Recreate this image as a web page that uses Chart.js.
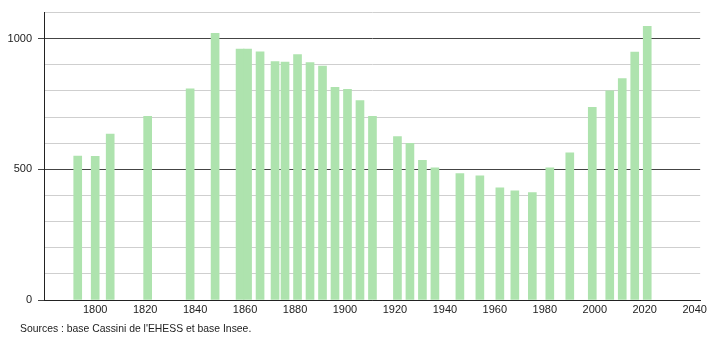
<!DOCTYPE html>
<html lang="fr">
<head>
  <meta charset="UTF-8" />
  <title>Évolution démographique</title>
  <script src="https://cdn.jsdelivr.net/npm/chart.js"></script>
  <style>
    body {
      margin: 0;
      background: #fff;
      font-family: 'Liberation Sans', Arial, sans-serif;
    }
    .wrap {
      position: relative;
      width: 710px;
      height: 340px;
    }
    .sources {
      position: absolute;
      left: 20px;
      top: 323px;
      font-size: 10.4px;
      color: #222;
    }
  </style>
</head>
<body>
  <div class="wrap">
    <canvas id="popChart" width="710" height="340"></canvas>
    <div class="sources">Sources : base Cassini de l'EHESS et base Insee.</div>
  </div>

  <script>
    // census years and population
    const years = [1793, 1800, 1806, 1821, 1838, 1848, 1858, 1861, 1866, 1872,
                   1876, 1881, 1886, 1891, 1896, 1901, 1906, 1911, 1921, 1926,
                   1931, 1936, 1946, 1954, 1962, 1968, 1975, 1982, 1990, 1999,
                   2006, 2011, 2016, 2021];
    const population = [551, 550, 635, 703, 808, 1021, 960, 960, 950, 913,
                        911, 939, 909, 895, 814, 806, 763, 703, 625, 600,
                        535, 506, 484, 475, 429, 418, 411, 506, 563, 737,
                        801, 847, 949, 1047];
    const xTicks = [1800, 1820, 1840, 1860, 1880, 1900, 1920, 1940, 1960, 1980, 2000, 2020, 2040];
    const yLabels = [0, 500, 1000];

    const isMajor = v => yLabels.includes(v);

    new Chart(document.getElementById('popChart'), {
      type: 'bar',
      data: {
        datasets: [{
          data: years.map((y, i) => ({ x: y, y: population[i] })),
          backgroundColor: 'rgb(174,227,174)',
          borderWidth: 0,
          barThickness: 8
        }]
      },
      options: {
        responsive: false,
        animation: false,
        layout: { padding: { left: 0, right: 9.5, top: 10, bottom: 0 } },
        plugins: {
          legend: { display: false },
          tooltip: { enabled: false }
        },
        scales: {
          x: {
            type: 'linear',
            min: 1779.5,
            max: 2042.2,
            offset: false,
            afterBuildTicks: s => { s.ticks = xTicks.map(v => ({ value: v })); },
            afterFit: s => { s.height = 40; },
            grid: { display: false, drawTicks: false, offset: false },
            border: { display: true, color: '#222', width: 1 },
            ticks: {
              padding: 3,
              maxRotation: 0,
              autoSkip: false,
              color: '#222',
              font: { family: 'Liberation Sans', size: 11 },
              callback: v => String(v)
            }
          },
          y: {
            min: 0,
            max: 1100,
            afterFit: s => { s.width = 44; },
            grid: {
              color: c => isMajor(c.tick.value) ? '#444' : '#cfcfcf',
              tickColor: c => isMajor(c.tick.value) ? '#444' : 'rgba(0,0,0,0)',
              tickLength: 6,
              lineWidth: 1
            },
            border: { display: true, color: '#222', width: 1 },
            ticks: {
              stepSize: 100,
              padding: 6,
              color: '#222',
              font: { family: 'Liberation Sans', size: 11 },
              callback: v => isMajor(v) ? String(v) : ''
            }
          }
        }
      }
    });
  </script>
</body>
</html>
